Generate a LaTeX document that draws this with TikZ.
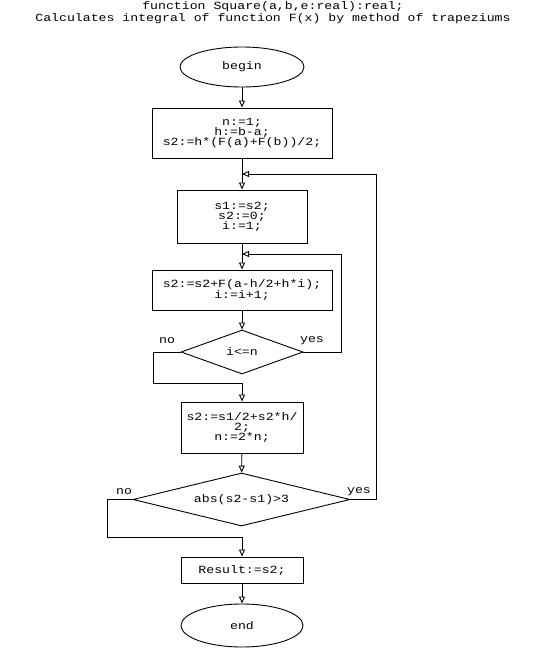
\documentclass[tikz,border=0pt]{standalone}
\usepackage{fontspec}
\setmonofont[FakeStretch=1.2]{Liberation Mono}
\usetikzlibrary{shapes.geometric,arrows.meta}

\begin{document}
\begin{tikzpicture}[x=1pt, y=-1pt, line width=0.9pt,
	>={Triangle[open,length=7pt,width=6pt]},
	every node/.style={font=\ttfamily\fontsize{11}{10}\selectfont, align=center, inner sep=0pt},
	term/.style={draw, ellipse, minimum width=124pt, minimum height=40pt},
	box/.style={draw, rectangle},
	cond/.style={draw, diamond}]
	\useasboundingbox (0,0) rectangle (544,648);

	\node[font=\ttfamily\fontsize{11}{12}\selectfont](T) at (273,13){function Square(a,b,e:real):real;\\Calculates integral of function F(x) by method of trapeziums};

	\node[term](A) at (242,67){begin};
	\node[box, minimum width=180pt, minimum height=50pt](B) at (242,133){n:=1;\\h:=b-a;\\s2:=h*(F(a)+F(b))/2;};
	\node[box, minimum width=130pt, minimum height=53pt](C) at (242,216.5){s1:=s2;\\s2:=0;\\i:=1;};
	\node[box, minimum width=180pt, minimum height=40pt](D) at (242,290){s2:=s2+F(a-h/2+h*i);\\i:=i+1;};
	\node[cond, shape aspect=2.77, minimum width=122pt, minimum height=44pt](E) at (242,352){i<=n};
	\node[box, minimum width=122pt, minimum height=51pt](F) at (242,427.5){s2:=s1/2+s2*h/\\2;\\n:=2*n;};
	\node[cond, shape aspect=4.1, minimum width=217pt, minimum height=53pt](G) at (241.5,499.5){abs(s2-s1)>3};
	\node[box, minimum width=122pt, minimum height=26pt](H) at (242,570){Result:=s2;};
	\node[term, minimum width=122pt, minimum height=43pt](I) at (242,625.5){end};

	\node(N1) at (167,341){no};
	\node(Y1) at (312,341){yes};
	\node(N2) at (124,492){no};
	\node(Y2) at (359,492){yes};

	\coordinate(M1) at (242,174);
	\coordinate(M2) at (242,254);

	\draw [->] (A) -- (B);
	\draw [->] (B) -- (C);
	\draw [->] (C) -- (D);
	\draw [->] (D) -- (E);
	\draw [->] (F) -- (G);
	\draw [->] (H) -- (I);
	\draw [->] (E.east) -- ++(38,0) |- (M2);
	\draw [->] (E.west) -- ++(-27,0) -- ++(0,31) -| (F.north);
	\draw [->] (G.east) -- ++(26,0) |- (M1);
	\draw [->] (G.west) -- ++(-25,0) -- ++(0,38) -| (H.north);
\end{tikzpicture}
\end{document}
